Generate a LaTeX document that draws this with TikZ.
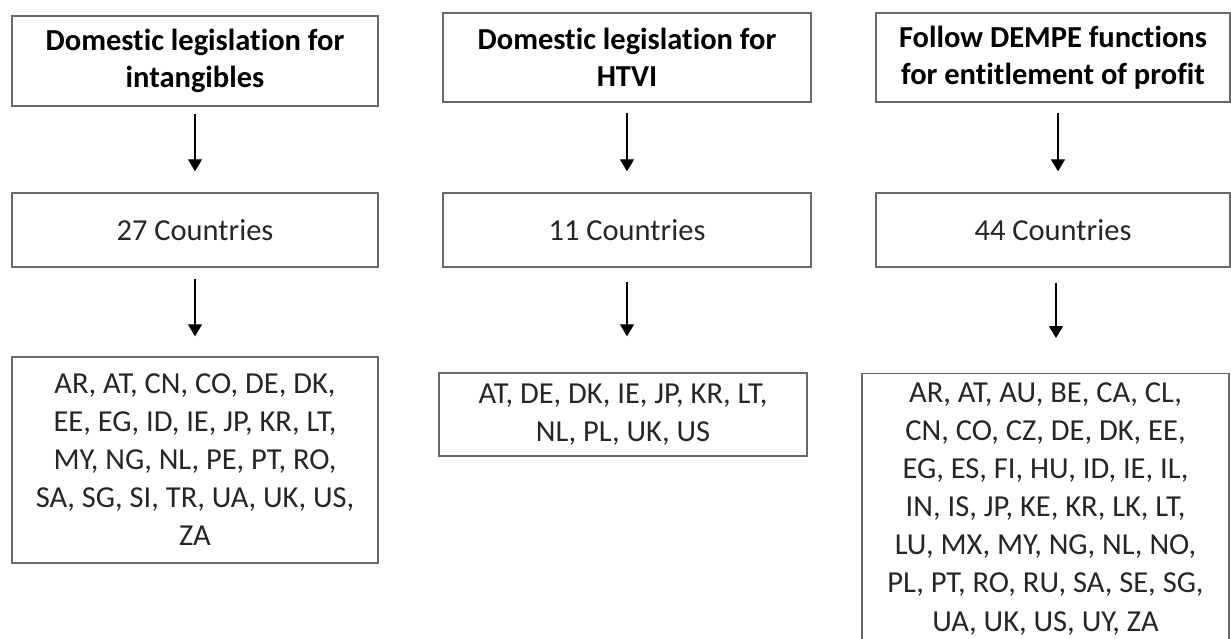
\documentclass[tikz,border=0pt]{standalone}
\usepackage{fontspec}
\setmainfont[Ligatures=NoCommon]{Carlito}
\usetikzlibrary{arrows.meta}
\definecolor{boxline}{RGB}{105,105,105}
\definecolor{listtext}{RGB}{38,38,38}

\begin{document}
\begin{tikzpicture}[x=1pt,y=-1pt,
  box/.style={draw=boxline,line width=1.4pt,align=center,inner sep=0pt,text=listtext,font=\fontsize{30.5}{38}\selectfont},
  headbox/.style={box,text=black,font=\fontsize{30.5}{37}\selectfont\bfseries},
  flow/.style={-{Triangle[width=14pt,length=12pt]},line width=1.3pt,shorten <=10pt,shorten >=21pt}]
\clip (0,0) rectangle (1231,639);

\node [headbox,minimum width=366pt,minimum height=90pt] (head1) at (195,61) {Domestic legislation for\\intangibles};
\node [headbox,minimum width=368pt,minimum height=89pt] (head2) at (627,57.5) {Domestic legislation for\\HTVI};
\node [headbox,minimum width=354pt,minimum height=89pt] (head3) at (1053,57.5) {Follow DEMPE functions\\for entitlement of profit};

\node [box,minimum width=366pt,minimum height=74pt] (count1) at (195,230) {27 Countries};
\node [box,minimum width=368pt,minimum height=74pt] (count2) at (627,230) {11 Countries};
\node [box,minimum width=354pt,minimum height=74pt] (count3) at (1053,230) {44 Countries};

\node [box,minimum width=366pt,minimum height=206pt] (list1) at (195,460)
{AR, AT, CN, CO, DE, DK,\\EE, EG, ID, IE, JP, KR, LT,\\MY, NG, NL, PE, PT, RO,\\SA, SG, SI, TR, UA, UK, US,\\ZA};
\node [box,minimum width=368pt,minimum height=83pt] (list2) at (623,414.5)
{AT, DE, DK, IE, JP, KR, LT,\\NL, PL, UK, US};
\node [box,minimum width=367pt,inner ysep=9pt,anchor=north,font=\fontsize{30.5}{38.1}\selectfont] (list3) at (1045.5,373)
{AR, AT, AU, BE, CA, CL,\\CN, CO, CZ, DE, DK, EE,\\EG, ES, FI, HU, ID, IE, IL,\\IN, IS, JP, KE, KR, LK, LT,\\LU, MX, MY, NG, NL, NO,\\PL, PT, RO, RU, SA, SE, SG,\\UA, UK, US, UY, ZA};

\draw [flow,shorten <=7pt] (head1) -- (count1);
\draw [flow] (head2) -- (count2);
\draw [flow] ([xshift=5pt]head3.south) -- ([xshift=5pt]count3.north);
\draw [flow,shorten <=11pt,shorten >=20pt] (count1) -- (list1);
\draw [flow,shorten <=14pt,shorten >=36pt] (count2.south) -- (count2.south |- list2.north);
\draw [flow,shorten <=15pt,shorten >=35pt] ([xshift=3pt]count3.south) -- ([xshift=3pt]count3.south |- list3.north);
\end{tikzpicture}
\end{document}
